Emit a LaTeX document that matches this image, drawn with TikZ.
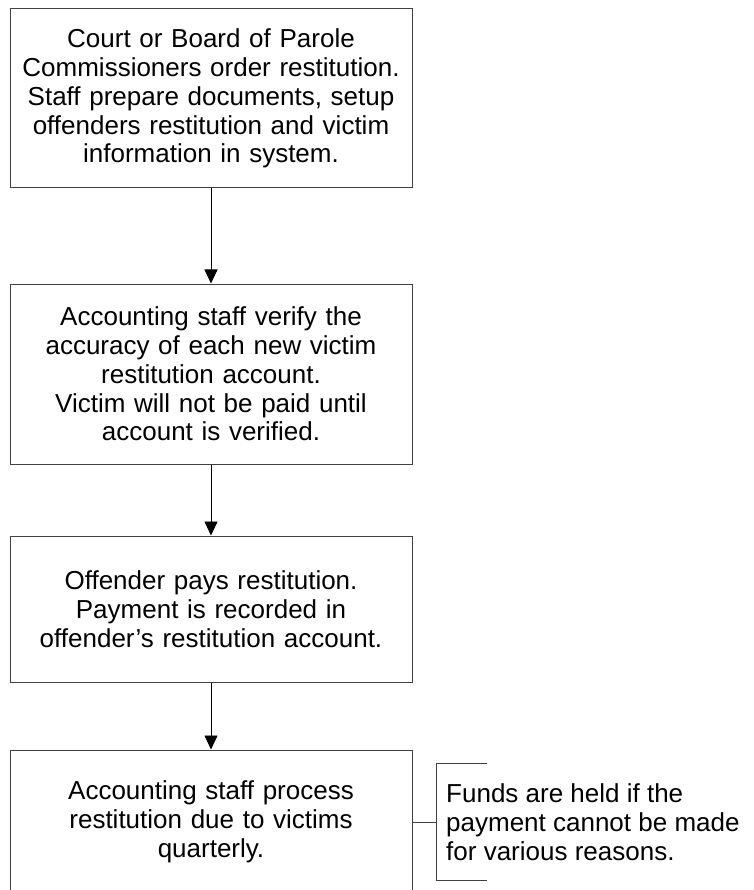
\documentclass[tikz,border=0pt]{standalone}
\usepackage{fontspec}
\setmainfont{Liberation Sans}
\usetikzlibrary{arrows.meta}
\tikzset{
  stepbox/.style={draw=black!75, line width=1pt, rectangle, inner xsep=4pt, inner ysep=0pt,
    text width=394pt, align=center, font=\fontsize{26}{28.8}\selectfont},
  flow/.style={draw=black, line width=0.8pt, -{Triangle[width=13pt,length=14pt]}},
  note/.style={inner xsep=10pt, inner ysep=0pt, minimum height=117pt, align=left,
    font=\fontsize{26}{28.8}\selectfont}
}

\begin{document}
\begin{tikzpicture}[x=1pt, y=-1pt]
		%%%%% START %%%%%
		\clip (0, 0) rectangle (753, 890);
		\useasboundingbox (0, 0) rectangle (753, 890);
		
		\node[stepbox, minimum height=179pt] (court) at (211, 98.5)
		  {Court or Board of Parole\\ Commissioners order restitution.\\ Staff prepare documents, setup\\ offenders restitution and victim\\ information in system.};
		
		\node[stepbox, minimum height=180pt] (verify) at (211, 374)
		  {Accounting staff verify the\\ accuracy of each new victim\\ restitution account.\\ Victim will not be paid until\\ account is verified.};
		
		\node[stepbox, minimum height=146pt] (pays) at (211, 609)
		  {Offender pays restitution.\\ Payment is recorded in\\ offender’s restitution account.};
		
		\node[stepbox, minimum height=144pt] (process) at (211, 822)
		  {Accounting staff process\\ restitution due to victims\\ quarterly.};
		
		\node[note, anchor=west] (funds) at (436, 822)
		  {Funds are held if the\\ payment cannot be made\\ for various reasons.};
		
		\draw[flow] (court) -- (verify);
		\draw[flow] (verify) -- (pays);
		\draw[flow] (pays) -- (process);
		
		% bracket of the note
		\draw[black!75, line width=0.8pt] ([xshift=51pt]funds.north west) -- (funds.north west)
		  -- (funds.south west) -- ([xshift=51pt]funds.south west);
		\draw[black!75, line width=0.8pt] (process.east) -- (funds.west);
		%%%%% END %%%%%
\end{tikzpicture}
\end{document}
